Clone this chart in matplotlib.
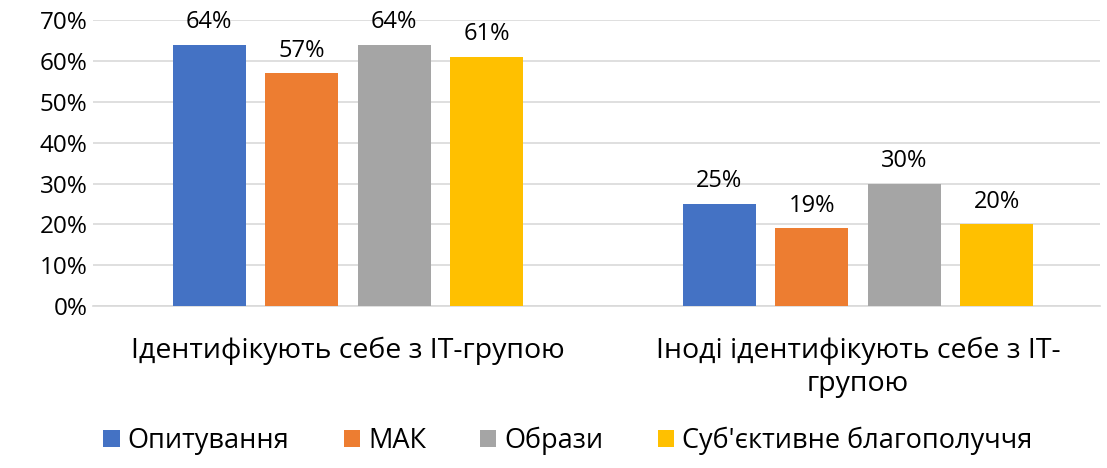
import matplotlib
matplotlib.use("Agg")
import matplotlib.pyplot as plt
import numpy as np
from matplotlib.ticker import PercentFormatter

categories = ["Ідентифікують себе з ІТ-групою", "Іноді ідентифікують себе з ІТ-\nгрупою"]
series_names = ["Опитування", "МАК", "Образи", "Суб'єктивне благополуччя"]
values = {
    "Опитування": [64, 25],
    "МАК": [57, 19],
    "Образи": [64, 30],
    "Суб'єктивне благополуччя": [61, 20],
}
colors = ["#4472C4", "#ED7D31", "#A5A5A5", "#FFC000"]
y_ticks = [0, 10, 20, 30, 40, 50, 60, 70]

plt.rcParams['font.family'] = ['Open Sans', 'DejaVu Sans']

fig = plt.figure(figsize=(11.07, 4.68), dpi=100)
ax = fig.add_axes([0.084, 0.346, 0.910, 0.611])

x = np.arange(len(categories))
width = 0.143
step = 0.1815
for i, name in enumerate(series_names):
    pos = x + (i - 1.5) * step
    bars = ax.bar(pos, values[name], width=width, color=colors[i], label=name, zorder=3)
    for b, v in zip(bars, values[name]):
        ax.text(b.get_x() + b.get_width() / 2, v + 2.6, f"{v}%", ha="center", va="bottom",
                fontsize=17, color="#000000")

ax.set_ylim(0, 70)
ax.set_xlim(-0.5, 1.475)
ax.set_yticks(y_ticks)
ax.yaxis.set_major_formatter(PercentFormatter(decimals=0))
ax.grid(axis="y", color="#D9D9D9", linewidth=1.2, zorder=0)
ax.set_xticks(x)
ax.set_xticklabels(categories, fontsize=20.5, linespacing=1.25)
ax.tick_params(axis="y", labelsize=17.5, length=0, pad=4)
ax.tick_params(axis="x", length=0, pad=22)
for s in ["top", "right", "left"]:
    ax.spines[s].set_visible(False)
ax.spines["bottom"].set_color("#D9D9D9")
ax.spines["bottom"].set_linewidth(1.2)
ax.set_clip_on(False)
for t in ax.texts:
    t.set_clip_on(False)

fig.legend(loc="lower center", bbox_to_anchor=(0.513, -0.025), ncol=4, frameon=False,
           fontsize=19.5, handlelength=0.6, handleheight=0.6, handletextpad=0.3, columnspacing=2.0)

fig.savefig("out.png", dpi=100)
